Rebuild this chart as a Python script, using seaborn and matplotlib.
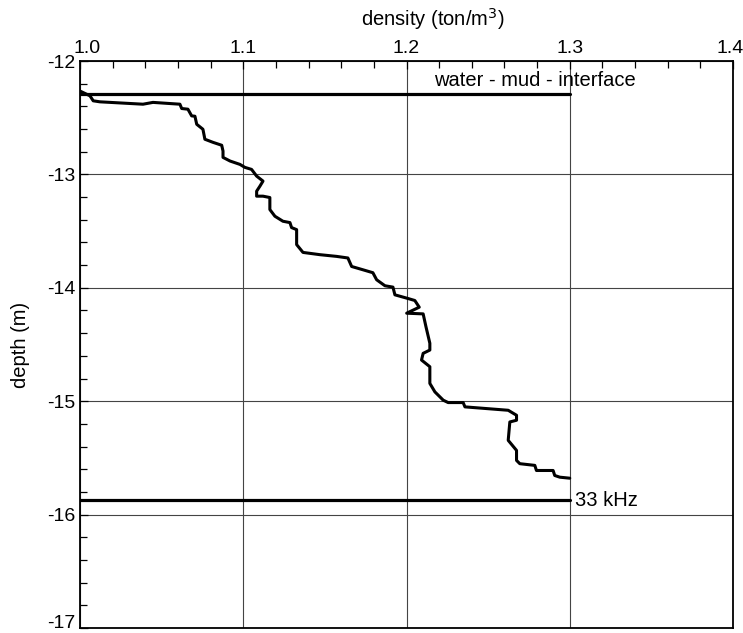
import numpy as np
import pandas as pd
import matplotlib
matplotlib.use("Agg")
import matplotlib.pyplot as plt
import matplotlib.ticker as mticker
import matplotlib.transforms as mtransforms
import seaborn as sns

# ── données ─────────────────────────────────────────────────────
density = [1.000, 1.0061, 1.0081, 1.0122, 1.0386, 1.0447, 1.0612, 1.0623, 1.0661,
           1.0684, 1.0704, 1.0715, 1.0753, 1.0765, 1.0814, 1.0868, 1.0876, 1.0876,
           1.0919, 1.0980, 1.1010, 1.1051, 1.1082, 1.1121, 1.1102, 1.1082, 1.1082,
           1.1121, 1.1163, 1.1163, 1.1194, 1.1243, 1.1286, 1.1296, 1.1327, 1.1327,
           1.1366, 1.1470, 1.1572, 1.1641, 1.1664, 1.1733, 1.1794, 1.1817, 1.1868,
           1.1917, 1.1929, 1.2001, 1.2051, 1.2078, 1.2001, 1.2102, 1.2119, 1.2143,
           1.2143, 1.2102, 1.2092, 1.2143, 1.2143, 1.2174, 1.2225, 1.2255, 1.2347,
           1.2358, 1.2490, 1.2623, 1.2674, 1.2674, 1.2633, 1.2623, 1.2674, 1.2674,
           1.2694, 1.2786, 1.2796, 1.2898, 1.2908, 1.2939, 1.3000]
depth = [-12.265, -12.307, -12.351, -12.360, -12.381, -12.365, -12.381, -12.419, -12.425,
         -12.484, -12.487, -12.558, -12.602, -12.690, -12.717, -12.743, -12.794, -12.850,
         -12.882, -12.912, -12.938, -12.956, -13.015, -13.059, -13.104, -13.148, -13.192,
         -13.192, -13.204, -13.310, -13.369, -13.413, -13.425, -13.469, -13.487, -13.619,
         -13.688, -13.708, -13.723, -13.737, -13.812, -13.841, -13.867, -13.929, -13.982,
         -13.994, -14.062, -14.091, -14.112, -14.171, -14.224, -14.230, -14.342, -14.489,
         -14.549, -14.578, -14.637, -14.696, -14.843, -14.918, -14.991, -15.012, -15.012,
         -15.050, -15.065, -15.080, -15.124, -15.168, -15.183, -15.345, -15.434, -15.522,
         -15.551, -15.566, -15.611, -15.611, -15.655, -15.670, -15.679]

interface_depth = -12.29
khz_depth = -15.875
line_end = 1.3

x_ticks = [1.0, 1.1, 1.2, 1.3, 1.4]
y_ticks = [-12, -13, -14, -15, -16, -17]

# ── style ───────────────────────────────────────────────────────
sns.set_theme(style="ticks")
plt.rcParams["font.family"] = ["Liberation Sans", "DejaVu Sans"]
plt.rcParams["axes.unicode_minus"] = False
plt.rcParams["text.color"] = "black"

df = pd.DataFrame({"density": density, "depth": depth})

fig = plt.figure(figsize=(7.43, 6.33), dpi=100)
ax = fig.add_axes([80 / 743, 1 - 628 / 633, 653 / 743, 567 / 633])

sns.lineplot(data=df, x="density", y="depth", sort=False, estimator=None,
             color="black", lw=2.2, ax=ax)

# lignes horizontales : interface et 33 kHz
ax.plot([x_ticks[0], line_end], [interface_depth, interface_depth], color="black", lw=2.3)
ax.plot([x_ticks[0], line_end], [khz_depth, khz_depth], color="black", lw=2.3)
ax.text(1.2166, -12.22, "water - mud - interface", fontsize=14.5, ha="left",
        va="baseline", color="black")
ax.text(1.303, khz_depth, "33 kHz", fontsize=14.5, ha="left", va="center",
        color="black")

ax.set_xlim(1.0, 1.4)
ax.set_ylim(-17, -12)
ax.set_xticks(x_ticks)
ax.set_yticks(y_ticks)
ax.xaxis.set_major_formatter(mticker.FormatStrFormatter("%.1f"))
ax.xaxis.set_minor_locator(mticker.MultipleLocator(0.02))
ax.yaxis.set_minor_locator(mticker.MultipleLocator(0.2))
ax.xaxis.tick_top()
ax.tick_params(axis="both", which="both", direction="in", colors="black",
               labelsize=14, pad=3)
ax.tick_params(which="major", length=6, width=0.9)
ax.tick_params(which="minor", length=5, width=0.9)
ax.tick_params(axis="x", bottom=False, top=True, labelbottom=False, labeltop=True)
ax.tick_params(axis="y", right=False, left=True)

# petits décalages des étiquettes aux coins (comme sur l'original)
xlabels = ax.get_xticklabels()
xlabels[0].set_transform(xlabels[0].get_transform() +
                         mtransforms.ScaledTranslation(7 / 100, 0, fig.dpi_scale_trans))
xlabels[-1].set_transform(xlabels[-1].get_transform() +
                          mtransforms.ScaledTranslation(-3 / 100, 0, fig.dpi_scale_trans))
ylabels = ax.get_yticklabels()
ylabels[-1].set_transform(ylabels[-1].get_transform() +
                          mtransforms.ScaledTranslation(0, 6 / 100, fig.dpi_scale_trans))

ax.grid(True, which="major", color="#444444", lw=0.8)
for s in ax.spines.values():
    s.set_visible(True)
    s.set_color("black")
    s.set_linewidth(1.3)

ax.set_xlabel("")
ax.set_ylabel("")
fig.text(433 / 743, 1 - 19 / 633, "density (ton/m$^3$)", fontsize=14.5,
         ha="center", va="center", color="black")
fig.text(20 / 743, 1 - 345 / 633, "depth (m)", fontsize=14.5, rotation=90,
         ha="center", va="center", color="black")

fig.savefig("out.png", dpi=100)
